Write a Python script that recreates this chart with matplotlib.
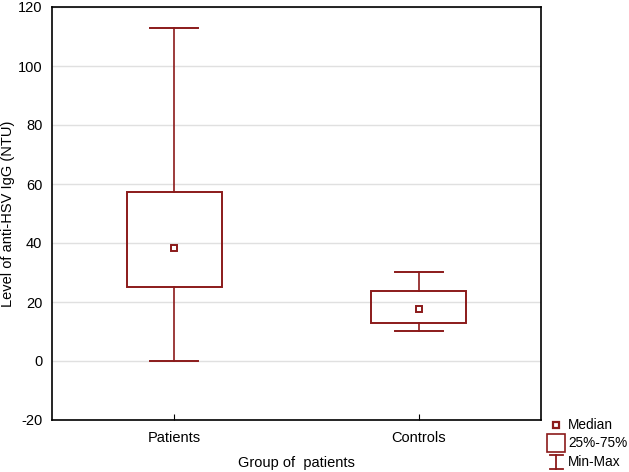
import matplotlib
matplotlib.use("Agg")
import matplotlib.pyplot as plt
from matplotlib.lines import Line2D

plt.rcParams['font.family'] = ['Liberation Sans', 'DejaVu Sans']
plt.rcParams['axes.unicode_minus'] = False

categories = ["Patients", "Controls"]
mins = [0.0, 10.2]
q1s = [25.2, 12.8]
medians = [38.2, 17.5]
q3s = [57.4, 23.7]
maxs = [113.0, 30.3]
legend_labels = ["Median", "25%-75%", "Min-Max"]

color = "#8B1A1A"
W, H = 629, 472
fig = plt.figure(figsize=(W/100, H/100), dpi=100)
ax = fig.add_axes([52/W, 1 - 420/H, (541-52)/W, (420-7)/H])

box_w = 0.39
cap_w = 0.196
for i, cat in enumerate(categories):
    x = i + 1
    ax.add_patch(plt.Rectangle((x - box_w/2, q1s[i]), box_w, q3s[i] - q1s[i],
                               fill=False, edgecolor=color, lw=1.4, zorder=3))
    ax.plot([x, x], [q3s[i], maxs[i]], color=color, lw=1.2, zorder=3)
    ax.plot([x, x], [mins[i], q1s[i]], color=color, lw=1.2, zorder=3)
    ax.plot([x - cap_w/2, x + cap_w/2], [maxs[i], maxs[i]], color=color, lw=1.4, zorder=3)
    ax.plot([x - cap_w/2, x + cap_w/2], [mins[i], mins[i]], color=color, lw=1.4, zorder=3)
    ax.plot([x], [medians[i]], marker='s', ms=4, mfc='white', mec=color, mew=1.4, zorder=4)

ax.set_xlim(0.5, 2.5)
ax.set_ylim(-20, 120)
ax.set_yticks(range(-20, 121, 20))
ax.set_xticks([1, 2])
ax.set_xticklabels(categories)
ax.grid(axis='y', color='#e0e0e0', lw=1.0, zorder=0)
ax.set_axisbelow(True)
ax.tick_params(direction='in', labelsize=10.5, color='black')
ax.tick_params(axis='x', length=4, pad=8)
ax.tick_params(axis='y', length=0, pad=7)
for s in ax.spines.values():
    s.set_linewidth(1.2)
ax.set_ylabel("Level of anti-HSV IgG (NTU)", fontsize=10.5)
ax.yaxis.set_label_coords((15 - 52) / (541 - 52), 0.5)
ax.set_xlabel("Group of  patients", fontsize=10.5, labelpad=8)

# legend drawn in figure pixel positions
def fx(px):
    return px / W

def fy(py):
    return 1 - py / H

def fline(xs, ys, lw=1.3):
    fig.add_artist(Line2D([fx(v) for v in xs], [fy(v) for v in ys],
                          color=color, lw=lw, transform=fig.transFigure))

rows_y = [425, 443, 462]
# Median marker
fig.add_artist(Line2D([fx(556)], [fy(rows_y[0])], ls='none', marker='s', ms=5,
                      mfc='white', mec=color, mew=1.6, transform=fig.transFigure))
# 25%-75% box marker
fig.add_artist(Line2D([fx(556)], [fy(rows_y[1])], ls='none', marker='s', ms=13,
                      mfc='white', mec=color, mew=1.2, transform=fig.transFigure))
# Min-Max I-beam
cy = rows_y[2]
fline([549.5, 562.5], [cy - 7, cy - 7])
fline([556, 556], [cy - 7, cy + 7])
fline([549.5, 562.5], [cy + 7, cy + 7])

for lab, ry in zip(legend_labels, rows_y):
    fig.text(fx(568), fy(ry), lab, fontsize=9.8, va='center', ha='left')

fig.savefig("out.png", dpi=100)
